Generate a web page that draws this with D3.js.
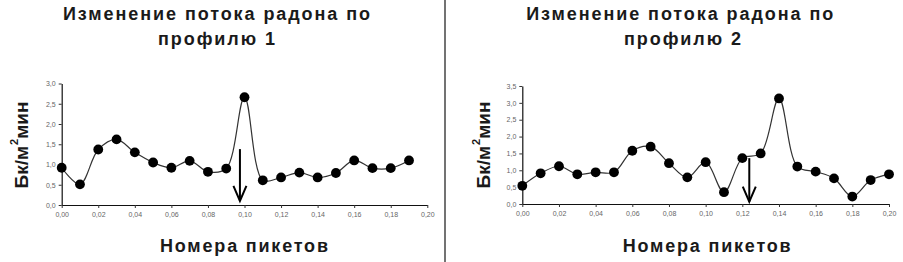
<!DOCTYPE html>
<html>
<head>
<meta charset="utf-8">
<script src="https://cdn.jsdelivr.net/npm/d3@7/dist/d3.min.js"></script>
<style>
  html, body { margin: 0; padding: 0; background: #fff; }
  svg { display: block; }
  text { font-family: "Liberation Sans", Arial, sans-serif; }
</style>
</head>
<body>
<svg id="chart" width="903" height="262"></svg>
<script>
// ---- data ----
const xValues1 = [0.00,0.01,0.02,0.03,0.04,0.05,0.06,0.07,0.08,0.09,0.10,0.11,0.12,0.13,0.14,0.15,0.16,0.17,0.18,0.19];
const radon1   = [0.92,0.51,1.37,1.62,1.30,1.05,0.92,1.09,0.82,0.90,2.66,0.61,0.68,0.80,0.68,0.79,1.10,0.91,0.91,1.10];
const xValues2 = [0.00,0.01,0.02,0.03,0.04,0.05,0.06,0.07,0.08,0.09,0.10,0.11,0.12,0.13,0.14,0.15,0.16,0.17,0.18,0.19,0.20];
const radon2   = [0.54,0.91,1.12,0.88,0.94,0.94,1.58,1.70,1.21,0.79,1.24,0.35,1.36,1.50,3.13,1.11,0.96,0.76,0.22,0.71,0.88];
const xTicks   = [0.00,0.02,0.04,0.06,0.08,0.10,0.12,0.14,0.16,0.18,0.20];
const yTicks1  = [0.0,0.5,1.0,1.5,2.0,2.5,3.0];
const yTicks2  = [0.0,0.5,1.0,1.5,2.0,2.5,3.0,3.5];
const titles1  = ["Изменение потока радона по", "профилю 1"];
const titles2  = ["Изменение потока радона по", "профилю 2"];
const xLabel   = "Номера пикетов";
const yLabelParts = ["Бк/м", "2", "мин"];
const arrow1   = { x: 0.0975, from: 1.38, to: 0.10 };
const arrow2   = { x: 0.1238, from: 1.36, to: 0.07 };

const svg = d3.select("#chart");
const fmt2 = v => d3.format(".2f")(v).replace(".", ",");
const fmt1 = v => d3.format(".1f")(v).replace(".", ",");

function panel(cfg) {
  const x = d3.scaleLinear().domain([0, 0.20]).range([cfg.x0, cfg.x1]);
  const y = d3.scaleLinear().domain([0, cfg.yMax]).range([cfg.y0, cfg.y1]);
  const g = svg.append("g");

  // titles
  g.append("text").attr("x", cfg.cx).attr("y", 20).attr("text-anchor", "middle")
    .attr("font-size", 18).attr("font-weight", "bold").attr("fill", "#1a1a1a")
    .attr("textLength", 307).attr("lengthAdjust", "spacing").text(cfg.titles[0]);
  g.append("text").attr("x", cfg.cx2).attr("y", 45).attr("text-anchor", "middle")
    .attr("font-size", 18).attr("font-weight", "bold").attr("fill", "#1a1a1a")
    .attr("textLength", 117).attr("lengthAdjust", "spacing").text(cfg.titles[1]);

  // axes
  const xAxis = d3.axisBottom(x).tickValues(xTicks).tickFormat(fmt2).tickSize(3).tickSizeOuter(0).tickPadding(4);
  const yAxis = d3.axisLeft(y).tickValues(cfg.yTicks).tickFormat(fmt1).tickSize(3).tickSizeOuter(0).tickPadding(3);
  const gx = g.append("g").attr("transform", `translate(0,${cfg.y0})`).call(xAxis);
  const gy = g.append("g").attr("transform", `translate(${cfg.x0},0)`).call(yAxis);
  [gx, gy].forEach(a => {
    a.select(".domain").attr("stroke", "#111").attr("stroke-width", 1.2);
    a.selectAll(".tick line").attr("stroke", "#333");
    a.selectAll(".tick text").attr("fill", "#666").attr("font-size", 7)
      .attr("font-family", "Liberation Sans, Arial, sans-serif");
  });

  // line
  const line = d3.line().x((d, i) => x(cfg.xs[i])).y(d => y(d)).curve(d3.curveCatmullRom.alpha(0.5));
  g.append("path").datum(cfg.vals).attr("d", line).attr("fill", "none")
    .attr("stroke", "#333").attr("stroke-width", 1.2);

  // markers
  g.selectAll("circle.pt").data(cfg.vals).join("circle").attr("class", "pt")
    .attr("cx", (d, i) => x(cfg.xs[i])).attr("cy", d => y(d)).attr("r", 4.9).attr("fill", "#000");

  // arrow
  const ax = x(cfg.arrow.x), ay1 = y(cfg.arrow.from), ay2 = y(cfg.arrow.to);
  g.append("line").attr("x1", ax).attr("x2", ax).attr("y1", ay1).attr("y2", ay2)
    .attr("stroke", "#000").attr("stroke-width", 2);
  g.append("path").attr("d", `M${ax - 6.5},${ay2 - 15} L${ax},${ay2} L${ax + 6.5},${ay2 - 15}`)
    .attr("fill", "none").attr("stroke", "#000").attr("stroke-width", 2);

  // x label
  g.append("text").attr("x", cfg.xlx).attr("y", 252).attr("text-anchor", "middle")
    .attr("font-size", 18).attr("font-weight", "bold").attr("fill", "#1a1a1a")
    .attr("textLength", 168).attr("lengthAdjust", "spacing").text(xLabel);

  // y label
  const yl = g.append("text").attr("transform", `translate(${cfg.ylx},145) rotate(-90)`)
    .attr("text-anchor", "middle").attr("font-size", 19).attr("font-weight", "bold").attr("fill", "#1a1a1a");
  yl.append("tspan").text(yLabelParts[0]);
  yl.append("tspan").attr("font-size", 11).attr("dy", -10).attr("dx", 1).text(yLabelParts[1]);
  yl.append("tspan").attr("dy", 10).text(yLabelParts[2]);
}

panel({ x0: 61.7, x1: 427.3, y0: 205, y1: 83.5, yMax: 3.0, yTicks: yTicks1, xs: xValues1, vals: radon1,
        titles: titles1, cx: 216.5, cx2: 216.5, xlx: 244, ylx: 28, arrow: arrow1 });
panel({ x0: 522.3, x1: 889, y0: 204, y1: 86, yMax: 3.5, yTicks: yTicks2, xs: xValues2, vals: radon2,
        titles: titles2, cx: 679.7, cx2: 682.5, xlx: 706.7, ylx: 490, arrow: arrow2 });

// divider
svg.append("line").attr("x1", 445).attr("x2", 445).attr("y1", 0).attr("y2", 262)
  .attr("stroke", "#444").attr("stroke-width", 1.5);
</script>
</body>
</html>
